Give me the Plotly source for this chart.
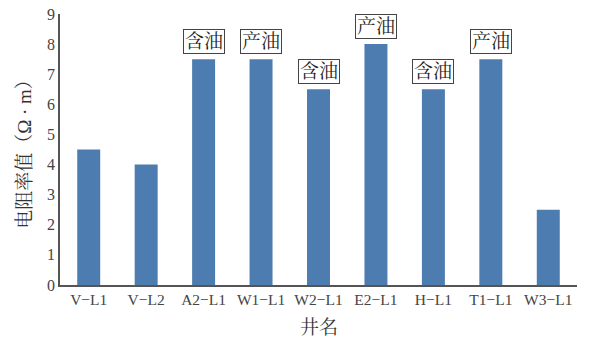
import plotly.graph_objects as go

wells = ["V−L1", "V−L2", "A2−L1", "W1−L1", "W2−L1", "E2−L1", "H−L1", "T1−L1", "W3−L1"]
resistivity = [4.5, 4.0, 7.5, 7.5, 6.5, 8.0, 6.5, 7.5, 2.5]
labels = ["", "", "含油", "产油", "含油", "产油", "含油", "产油", ""]

FONT = "Liberation Serif, Times New Roman, Noto Serif CJK SC, Noto Sans CJK SC, serif"

fig = go.Figure(go.Bar(x=wells, y=resistivity, marker=dict(color="#4d7cb0", line=dict(width=0)), width=0.4))

for w, v, t in zip(wells, resistivity, labels):
    if t:
        fig.add_annotation(x=w, y=v, text=t, showarrow=False, yanchor="bottom", yshift=5,
                           font=dict(family=FONT, size=19, color="#222"),
                           bordercolor="#444", borderwidth=1, borderpad=1, bgcolor="white")

# x-axis title placed as a paper annotation for exact vertical position
fig.add_annotation(x=0.5, y=0, xref="paper", yref="paper", text="井名", showarrow=False,
                   yanchor="middle", yshift=-42, font=dict(family=FONT, size=19, color="#333"))

fig.update_layout(
    width=592, height=339, margin=dict(l=60, r=15, t=14, b=54),
    plot_bgcolor="white", paper_bgcolor="white",
    font=dict(family=FONT, size=15, color="#333"),
    showlegend=False, bargap=0.6,
    xaxis=dict(showline=True, linecolor="#555", linewidth=1.5, ticks="", showgrid=False,
               automargin=False,
               tickfont=dict(size=15.5, color="#444")),
    yaxis=dict(range=[0, 9], dtick=1, showline=True, linecolor="#555", linewidth=1.5, ticks="",
               automargin=False,
               showgrid=False, zeroline=False, tickfont=dict(size=16, color="#444"),
               title=dict(text="电阻率值（Ω · m）", font=dict(size=19, color="#333"), standoff=10)),
)

fig.write_html("out.html")
